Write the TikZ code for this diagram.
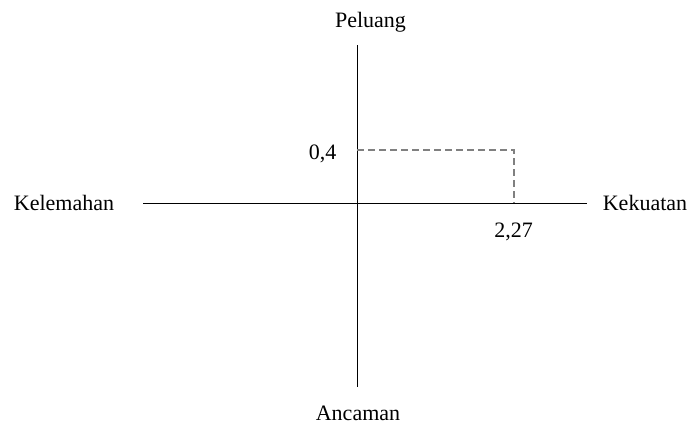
\documentclass[tikz,border=0pt]{standalone}
\usepackage{fontspec}
\setmainfont{Liberation Serif}
\begin{document}
\begin{tikzpicture}[x=.5pt,y=-.5pt,font=\fontsize{11}{13}\selectfont,lbl/.style={inner sep=0pt,anchor=base}]
\useasboundingbox (0,0) rectangle (689,423);
\coordinate (O) at (357,203);
\coordinate (W) at (143,203);\coordinate (E) at (587,203);
\coordinate (N) at (357,45);\coordinate (S) at (357,387);
\coordinate (P) at (514,150);
\draw[line width=.5pt] (W)--(E);
\draw[line width=.5pt] (N)--(S);
\draw[gray,line width=.8pt,dash pattern=on 3.5pt off 2pt] (O|-P)--(P)--(P|-O);
\node[lbl] (peluang) at (370.5,27) {Peluang};
\node[lbl] (ancaman) at (358,420) {Ancaman};
\node[lbl] (kekuatan) at (645,210) {Kekuatan};
\node[lbl] (kelemahan) at (64,210) {Kelemahan};
\node[lbl] (y04) at (322.5,159) {0,4};
\node[lbl] (x227) at (513.5,237) {2,27};
\end{tikzpicture}
\end{document}
